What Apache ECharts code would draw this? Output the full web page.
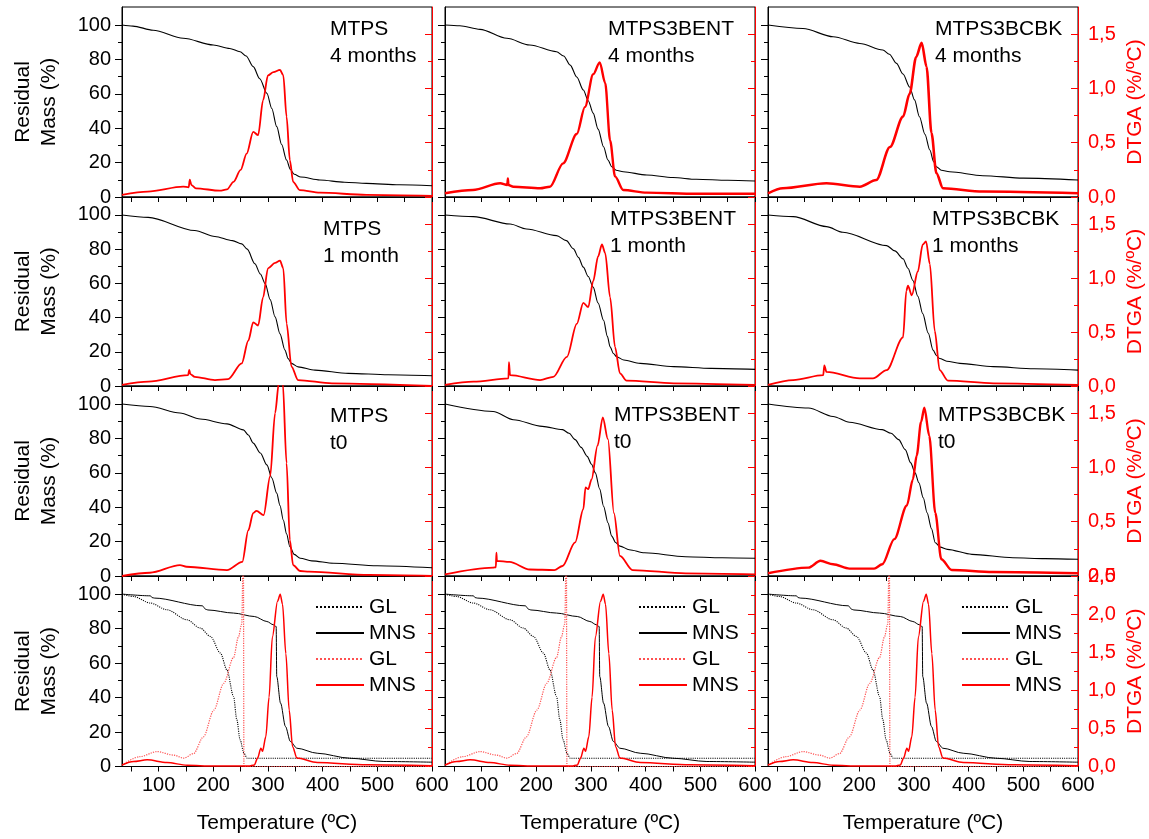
<!DOCTYPE html>
<html><head><meta charset="utf-8">
<script src="https://cdn.jsdelivr.net/npm/echarts@6/dist/echarts.min.js"></script>
<style>html,body{margin:0;padding:0;background:#fff}#c{width:1149px;height:839px}</style>
</head><body><div id="c"></div>
<script>
// ---------- DATA (temperature ºC, value) ----------
const tg_MTPS_4m = [[33,100],[53,99.4],[90,97],[145,92.3],[200,88.4],[230,86.4],[249,84.5],[260,82],[273,75.8],[285,68.8],[298,60.3],[307,51.5],[316,40.9],[325,30.5],[334,21.5],[341,16],[348,13.2],[360,11.6],[395,9.9],[440,8.6],[480,7.9],[540,7.1],[600,6.5]];
const dtg_MTPS_4m = [[33,0.02],[80,0.05],[145,0.095],[155,0.09],[157,0.16],[160,0.11],[168,0.08],[212,0.058],[225,0.07],[237,0.14],[250,0.25],[261,0.40],[273,0.60],[282,0.57],[291,0.89],[300,1.12],[310,1.15],[322,1.17],[328,1.12],[334,0.74],[340,0.34],[346,0.14],[358,0.064],[395,0.04],[480,0.02],[600,0.01]];
const tg_BENT_4m = [[33,100],[60,99.6],[97,97.5],[146,92.3],[188,88.4],[237,84.5],[250,82],[262,76.7],[274,69.8],[286,62.2],[295,56],[304,48.8],[313,39.5],[323,29.2],[331,21.5],[338,17.6],[346,15.6],[359,14.7],[402,12.8],[450,11.3],[493,10.3],[550,9.7],[600,9.3]];
const dtg_BENT_4m = [[33,0.034],[84,0.064],[134,0.126],[147,0.11],[148,0.17],[149,0.11],[158,0.095],[207,0.08],[225,0.095],[249,0.31],[274,0.58],[289,0.83],[304,1.13],[316,1.24],[326,1.05],[335,0.52],[344,0.19],[359,0.064],[402,0.04],[493,0.03],[600,0.03]];
const tg_BCBK_4m = [[33,100],[97,98],[152,93.2],[201,89.3],[243,85.5],[255,83],[268,77.7],[280,71.5],[292,64],[301,56.5],[310,46.7],[320,36.5],[329,27.3],[336,20.5],[341,17.6],[350,15.6],[365,14.7],[426,12.4],[500,11],[600,9.9]];
const dtg_BCBK_4m = [[33,0.034],[60,0.08],[140,0.126],[201,0.095],[231,0.156],[256,0.46],[280,0.74],[292,0.95],[304,1.29],[314,1.42],[323,1.20],[332,0.59],[341,0.22],[353,0.08],[426,0.05],[600,0.034]];

const tg_MTPS_1m = [[33,100],[81,98.6],[166,90.9],[203,87.4],[235,85],[252,83.1],[262,80],[276,71.5],[286,65.5],[295,59.8],[304,50.5],[313,40.4],[322,30.5],[331,21],[337,16],[343,13.2],[355,11.2],[386,9.3],[447,7.4],[520,6.6],[600,6.0]];
const dtg_MTPS_1m = [[33,0.01],[81,0.04],[154,0.10],[156,0.15],[158,0.11],[166,0.085],[203,0.055],[227,0.064],[252,0.21],[264,0.42],[273,0.59],[282,0.56],[291,0.82],[300,1.09],[313,1.14],[322,1.16],[328,1.09],[334,0.58],[343,0.18],[355,0.055],[417,0.025],[600,0.0]];
const tg_BENT_1m = [[33,100],[85,99],[152,94.7],[182,91.8],[237,87.9],[255,85],[268,80.2],[277,75.2],[286,69.5],[295,64],[304,57.8],[313,48.5],[323,38.4],[330,29],[335,22.9],[341,19],[347,17.1],[360,15.2],[390,13.2],[451,11.3],[520,10.3],[600,9.7]];
const dtg_BENT_1m = [[33,0.01],[85,0.04],[149,0.07],[150,0.22],[152,0.10],[207,0.055],[231,0.085],[256,0.27],[274,0.575],[286,0.77],[295,0.73],[304,0.97],[313,1.20],[320,1.31],[326,1.23],[335,0.82],[344,0.36],[353,0.117],[365,0.05],[451,0.025],[600,0.01]];
const tg_BCBK_1m = [[33,100],[79,99],[140,93.2],[170,89.9],[250,82.1],[265,79],[280,74.4],[289,68.8],[298,61.7],[307,52.5],[316,42.3],[326,31],[335,21],[341,17.8],[347,16.1],[360,14.5],[384,13.2],[445,11.3],[520,10.1],[600,9.3]];
const dtg_BCBK_1m = [[33,0.01],[79,0.055],[134,0.10],[136,0.19],[140,0.13],[201,0.07],[225,0.07],[250,0.147],[280,0.45],[286,0.88],[289,0.93],[296,0.84],[307,1.06],[316,1.31],[322,1.34],[329,1.13],[338,0.51],[347,0.147],[362,0.05],[445,0.025],[600,0.01]];

const tg_MTPS_t0 = [[33,100],[84,98.6],[139,94.8],[176,91.3],[225,88.5],[255,85],[264,82],[273,77.3],[286,71.5],[298,64.6],[307,57],[316,48.2],[322,41],[328,32.6],[334,24.5],[340,17.1],[348,12.6],[359,10.3],[380,8.8],[420,7.4],[500,6],[600,4.8]];
const dtg_MTPS_t0 = [[33,0],[84,0.03],[139,0.10],[151,0.085],[225,0.055],[253,0.13],[264,0.42],[273,0.58],[279,0.60],[292,0.56],[304,0.92],[313,1.50],[320,1.78],[327,1.78],[334,1.04],[340,0.33],[346,0.10],[359,0.046],[375,0.04],[485,0.01],[600,0]];
const tg_BENT_t0 = [[33,100],[121,95.7],[158,90.9],[211,87],[248,85.1],[260,83],[271,79.3],[282,74.8],[293,69.6],[301,65],[308,60],[316,50.5],[323,40.6],[331,31],[338,23.2],[345,19.5],[353,17.4],[370,15.3],[398,13.5],[473,11.2],[540,10.6],[600,10.3]];
const dtg_BENT_t0 = [[33,0.015],[121,0.077],[126,0.08],[127,0.215],[128,0.14],[151,0.13],[188,0.06],[233,0.055],[248,0.092],[271,0.31],[286,0.615],[290,0.815],[295,0.80],[301,0.89],[312,1.2],[321.6,1.46],[331,1.26],[342,0.58],[353,0.185],[376,0.055],[473,0.025],[600,0.015]];
const tg_BCBK_t0 = [[33,100],[107,97.7],[152,92.8],[182,89.4],[242,85.1],[258,83],[272,79.3],[284,73.5],[294,65.8],[302,60],[309,54.2],[317,45.5],[324,36.8],[332,27.5],[339,19.3],[348,16.8],[361,15.5],[406,12.6],[481,10.6],[540,10.1],[600,9.7]];
const dtg_BCBK_t0 = [[33,0.025],[107,0.077],[129,0.14],[152,0.108],[182,0.068],[227,0.068],[242,0.108],[264,0.34],[287,0.65],[298,0.89],[305,1.11],[313,1.42],[319,1.55],[328,1.29],[339,0.58],[350,0.154],[369,0.055],[444,0.037],[600,0.025]];

// reference materials (bottom row, same in every column)
const tg_GL = [[33,100],[54,98.6],[85,94.8],[115,90.9],[152,85.1],[176,80.3],[195,75.4],[213,65.8],[225,56],[237,40.6],[243,27.1],[249,15.5],[256,7.7],[262,4.8],[600,4.8]];
const tg_MNS = [[33,100],[85,99],[88,98],[92,97.7],[180,93.2],[186,91.2],[190,90.8],[237,89],[275,87],[298,84.1],[310,82.2],[315,81.2],[316,52.2],[323,36.8],[332,23.2],[341,14.5],[353,10.6],[390,7.7],[450,4.8],[512,2.9],[600,2.5]];
const dtg_GL = [[33,0.02],[66,0.13],[97,0.196],[127,0.15],[146,0.11],[164,0.17],[182,0.39],[201,0.74],[219,1.09],[237,1.43],[246,1.70],[252,1.87],[255,3.0],[256,0],[600,0]];
const dtg_MNS = [[33,0.02],[54,0.065],[79,0.087],[115,0.052],[152,0.017],[200,0.005],[265,0.005],[275,0.02],[281,0.11],[287,0.24],[290,0.2],[296,0.39],[302,0.91],[308,1.7],[317.5,2.17],[322.4,2.26],[326.6,2.13],[332.7,1.48],[338.8,0.74],[345,0.26],[353,0.11],[390,0.052],[481,0.022],[600,0.01]];

const sampleNames = [['MTPS\n4 months','MTPS3BENT\n4 months','MTPS3BCBK\n4 months'],
                     ['MTPS\n1 month','MTPS3BENT\n1 month','MTPS3BCBK\n1 months'],
                     ['MTPS\nt0','MTPS3BENT\nt0','MTPS3BCBK\nt0']];
const tgData = [[tg_MTPS_4m,tg_BENT_4m,tg_BCBK_4m],[tg_MTPS_1m,tg_BENT_1m,tg_BCBK_1m],[tg_MTPS_t0,tg_BENT_t0,tg_BCBK_t0]];
const dtgData = [[dtg_MTPS_4m,dtg_BENT_4m,dtg_BCBK_4m],[dtg_MTPS_1m,dtg_BENT_1m,dtg_BCBK_1m],[dtg_MTPS_t0,dtg_BENT_t0,dtg_BCBK_t0]];

const xTickValues = [50,100,150,200,250,300,350,400,450,500,550,600];
const xLabelValues = [100,200,300,400,500,600];
const massMajor = [0,20,40,60,80,100];
const massMinor = [10,30,50,70,90];
const dtgMajor = [[0,0.5,1,1.5],[0,0.5,1,1.5],[0,0.5,1,1.5],[0,0.5,1,1.5,2,2.5]];
const dtgMinor = [[0.25,0.75,1.25],[0.25,0.75,1.25],[0.25,0.75,1.25],[0.25,0.75,1.25,1.75,2.25]];

// ---------- LAYOUT / STYLE ----------
const FONT = "'Liberation Sans', Arial, sans-serif";
const RED = '#ff0000';
const colLefts = [122,445,768];
const rowTops = [7,197,386,576];
const rowHeights = [190,189,190,190.5];
const plotW = 310;
const xMin = 33, xMax = 600, massMax = 110.5;
const dtgMax = [1.75,1.75,1.75,2.5];
const redWidths = [[1.8,2.4,2.6],[1.8,1.8,1.8],[1.8,1.8,2.4]];
const titlePos = [[[330,16],[608,16],[935,16]],[[323,216],[610,206],[932,206]],[[330,403],[614,402],[938,402]]];

const grids=[],xAxes=[],yAxes=[],series=[],titles=[],legends=[];
const fmtComma = v => (Math.round(v*10)/10).toFixed(1).replace('.',',');

for (let r=0;r<4;r++){
  for (let c=0;c<3;c++){
    const g = grids.length;
    grids.push({left:colLefts[c],top:rowTops[r],width:plotW,height:rowHeights[r],show:true,borderColor:'#000',borderWidth:1,backgroundColor:'transparent',outerBoundsMode:'none',containLabel:false});
    const bottomRow = r===3;
    xAxes.push({type:'value',gridIndex:g,min:xMin,max:xMax,position:'bottom',
      axisLine:{show:true,lineStyle:{color:'#000',width:1}},
      axisTick:{show:true,length:5,inside:false,customValues:xTickValues,lineStyle:{color:'#000'}},
      axisLabel:{show:bottomRow,customValues:xLabelValues,fontSize:20,color:'#000',fontFamily:FONT,margin:9},
      splitLine:{show:false},
      name:bottomRow?'Temperature (ºC)':'',nameLocation:'middle',nameGap:46,
      nameTextStyle:{fontSize:21,color:'#000',fontFamily:FONT}});
    yAxes.push({type:'value',gridIndex:g,position:'left',min:0,max:massMax,
      axisLine:{show:true,lineStyle:{color:'#000',width:1}},
      axisTick:{show:true,length:7,customValues:massMajor,lineStyle:{color:'#000'}},
      axisLabel:{show:c===0,customValues:massMajor,fontSize:20,color:'#000',fontFamily:FONT,margin:11},
      splitLine:{show:false},
      name:c===0?'Residual\nMass (%)':'',nameLocation:'middle',nameGap:60,
      nameTextStyle:{fontSize:21,color:'#000',fontFamily:FONT,lineHeight:26}});
    yAxes.push({type:'value',gridIndex:g,position:'left',min:0,max:massMax,
      axisLine:{show:false},axisTick:{show:true,length:4,customValues:massMinor,lineStyle:{color:'#000'}},
      axisLabel:{show:false},splitLine:{show:false}});
    yAxes.push({type:'value',gridIndex:g,position:'right',min:0,max:dtgMax[r],
      axisLine:{show:true,lineStyle:{color:RED,width:1}},
      axisTick:{show:true,inside:true,length:7,customValues:dtgMajor[r],lineStyle:{color:RED}},
      axisLabel:{show:c===2,customValues:dtgMajor[r],fontSize:20,color:RED,fontFamily:FONT,margin:10,formatter:fmtComma},
      splitLine:{show:false},
      name:c===2?'DTGA (%/ºC)':'',nameLocation:'middle',nameGap:47,
      nameTextStyle:{fontSize:21,color:RED,fontFamily:FONT}});
    yAxes.push({type:'value',gridIndex:g,position:'right',min:0,max:dtgMax[r],
      axisLine:{show:false},axisTick:{show:true,inside:true,length:4,customValues:dtgMinor[r],lineStyle:{color:RED}},
      axisLabel:{show:false},splitLine:{show:false}});
    const yL = 4*g, yR = 4*g+2;
    if (r<3){
      series.push({type:'line',name:'TG '+sampleNames[r][c],xAxisIndex:g,yAxisIndex:yL,data:tgData[r][c],
        showSymbol:false,symbol:'none',smooth:0.3,smoothMonotone:'x',lineStyle:{color:'#000',width:1.1},z:3});
      series.push({type:'line',name:'DTGA '+sampleNames[r][c],xAxisIndex:g,yAxisIndex:yR,data:dtgData[r][c],
        showSymbol:false,symbol:'none',smooth:0.3,smoothMonotone:'x',lineStyle:{color:RED,width:redWidths[r][c]},z:4});
      const [tl,tt] = titlePos[r][c];
      titles.push({text:sampleNames[r][c],left:tl,top:tt,padding:0,
        textStyle:{fontSize:21,fontWeight:'normal',color:'#000',fontFamily:FONT,lineHeight:27}});
    } else {
      series.push({type:'line',name:'GL',xAxisIndex:g,yAxisIndex:yL,data:tg_GL,showSymbol:false,symbol:'none',
        smooth:0.3,smoothMonotone:'x',lineStyle:{color:'#000',width:1.1,type:'dotted'},itemStyle:{color:'#000'},z:3});
      series.push({type:'line',name:'MNS',xAxisIndex:g,yAxisIndex:yL,data:tg_MNS,showSymbol:false,symbol:'none',
        smooth:0.3,smoothMonotone:'x',lineStyle:{color:'#000',width:1},itemStyle:{color:'#000'},z:3});
      series.push({type:'line',name:'GL ',xAxisIndex:g,yAxisIndex:yR,data:dtg_GL,showSymbol:false,symbol:'none',
        smooth:0.3,smoothMonotone:'x',lineStyle:{color:'#ff5050',width:1.2,type:'dotted'},itemStyle:{color:'#ff5050'},z:4});
      series.push({type:'line',name:'MNS ',xAxisIndex:g,yAxisIndex:yR,data:dtg_MNS,showSymbol:false,symbol:'none',
        smooth:0.3,smoothMonotone:'x',lineStyle:{color:RED,width:1.5},itemStyle:{color:RED},z:4});
      legends.push({data:['GL','MNS','GL ','MNS '],orient:'vertical',left:colLefts[c]+193,top:594,
        itemWidth:48,itemHeight:10,itemGap:0,padding:0,selectedMode:false,
        itemStyle:{opacity:0,borderWidth:0},
        textStyle:{fontSize:21,color:'#000',fontFamily:FONT,lineHeight:26}});
    }
  }
}

const chart = echarts.init(document.getElementById('c'),null,{renderer:'canvas'});
chart.setOption({animation:false,backgroundColor:'#fff',title:titles,legend:legends,grid:grids,xAxis:xAxes,yAxis:yAxes,series:series,tooltip:{show:false}});
</script></body></html>
